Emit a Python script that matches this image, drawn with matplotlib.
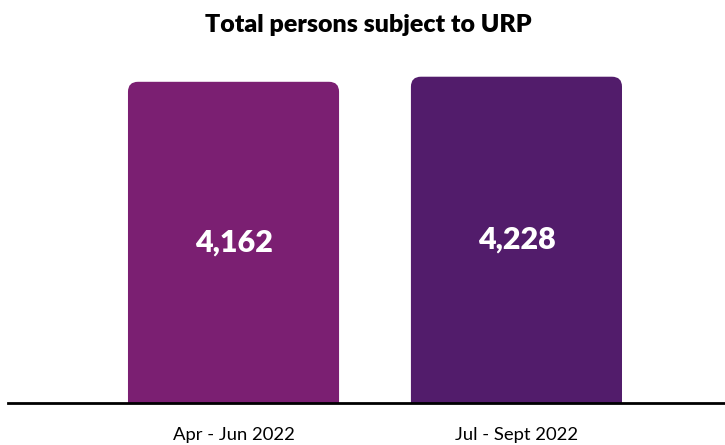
import matplotlib.pyplot as plt
from matplotlib.patches import FancyBboxPatch

plt.rcParams['font.family'] = ['Lato', 'DejaVu Sans']

periods = ["Apr - Jun 2022", "Jul - Sept 2022"]
persons = [4162, 4228]
colours = ["#7B1F72", "#521C6B"]

W, H = 725, 445
fig = plt.figure(figsize=(W / 100, H / 100), dpi=100)

# axes: left edge at 8px, baseline at 403px from top
ax = fig.add_axes([8 / W, (H - 403) / H, 1 - 8 / W, (403 - 48) / H])
ax.set_xlim(-0.797, 1.737)
ax.set_ylim(0, 4600)

bar_w = 0.746
# data units per pixel in each direction, for round corners
xpp = (1.737 + 0.797) / (W - 8)
ypp = 4600 / (403 - 48)
r = 10 * xpp

for i, (v, c) in enumerate(zip(persons, colours)):
    box = FancyBboxPatch((i - bar_w / 2, -500), bar_w, v + 500,
                         boxstyle=f"round,pad=0,rounding_size={r}",
                         mutation_aspect=ypp / xpp,
                         fc=c, ec="none", clip_on=True)
    ax.add_patch(box)
    ax.text(i, v / 2, f"{v:,}", ha="center", va="center", color="white",
            fontsize=22, fontweight="heavy")

for s in ["top", "right", "left"]:
    ax.spines[s].set_visible(False)
ax.spines["bottom"].set_linewidth(2)
ax.spines["bottom"].set_color("black")
ax.set_yticks([])
ax.set_xticks([0, 1])
ax.set_xticklabels(periods, fontsize=13.3)
ax.tick_params(axis="x", length=0, pad=17)

fig.text(368 / W, 1 - 25 / H, "Total persons subject to URP", ha="center",
         va="center", fontsize=18, fontweight="heavy")

fig.savefig("out.png", dpi=100)
